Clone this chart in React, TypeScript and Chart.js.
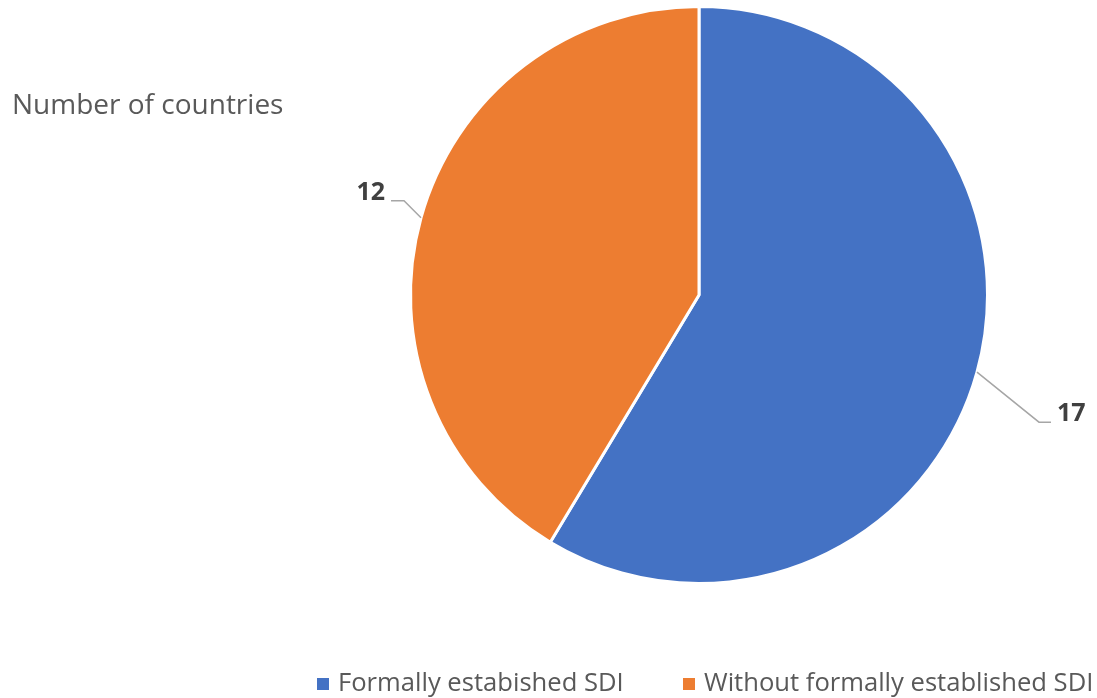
import React, { useEffect, useRef } from "react";
import { Chart, registerables } from "chart.js";

Chart.register(...registerables);

const categories = ["Formally estabished SDI", "Without formally established SDI"];
const values = [17, 12];
const colors = ["#4472C4", "#ED7D31"];
const chartTitle = "Number of countries";

const FONT = '"Open Sans", "Noto Sans", sans-serif';

// leader line geometry per slice: [dx1, dy1, horizontal length, side]
const leaders = [
  { dx: 62, dy: 50, h: 12, side: 1 },
  { dx: -17, dy: -17, h: -13, side: -1 },
];

const overlay = {
  id: "overlay",
  afterDraw(chart: any) {
    const ctx = chart.ctx;
    ctx.save();
    // title
    ctx.fillStyle = "#595959";
    ctx.font = `28px ${FONT}`;
    ctx.textBaseline = "middle";
    ctx.textAlign = "left";
    ctx.fillText(chartTitle, 12, 106);

    // data labels with leader lines
    const meta = chart.getDatasetMeta(0);
    meta.data.forEach((arc: any, i: number) => {
      const p = arc.getProps(["x", "y", "startAngle", "endAngle", "outerRadius"], true);
      const mid = (p.startAngle + p.endAngle) / 2;
      const sx = p.x + Math.cos(mid) * p.outerRadius;
      const sy = p.y + Math.sin(mid) * p.outerRadius;
      const L = leaders[i];
      const ex = sx + L.dx;
      const ey = sy + L.dy;
      const hx = ex + L.h;
      ctx.strokeStyle = "#A6A6A6";
      ctx.lineWidth = 1.5;
      ctx.beginPath();
      ctx.moveTo(sx, sy);
      ctx.lineTo(ex, ey);
      ctx.lineTo(hx, ey);
      ctx.stroke();
      ctx.fillStyle = "#404040";
      ctx.font = `bold 25px ${FONT}`;
      ctx.textBaseline = "middle";
      ctx.textAlign = L.side > 0 ? "left" : "right";
      ctx.fillText(String(values[i]), hx + L.side * 6, ey - 8);
    });

    // legend
    ctx.font = `25.6px ${FONT}`;
    ctx.textBaseline = "middle";
    ctx.textAlign = "left";
    const ly = 684;
    const starts = [317, 683];
    categories.forEach((c, i) => {
      ctx.fillStyle = colors[i];
      ctx.fillRect(starts[i], ly - 6, 12, 12);
      ctx.fillStyle = "#595959";
      ctx.fillText(c, starts[i] + 21, ly);
    });
    ctx.restore();
  },
};

export default function App() {
  const ref = useRef<HTMLCanvasElement>(null);
  useEffect(() => {
    if (!ref.current) return;
    const chart = new Chart(ref.current, {
      type: "pie",
      data: {
        labels: categories,
        datasets: [
          {
            data: values,
            backgroundColor: colors,
            borderColor: "#FFFFFF",
            borderWidth: 3,
          },
        ],
      },
      options: {
        responsive: false,
        animation: false,
        layout: { padding: { left: 409, right: 108, top: 5, bottom: 113 } },
        plugins: {
          legend: { display: false },
          tooltip: { enabled: false },
          title: { display: false },
        },
      },
      plugins: [overlay],
    });
    return () => chart.destroy();
  }, []);
  return (
    <div style={{ position: "fixed", left: 0, top: 0, width: 1097, height: 698, background: "#fff" }}>
      <canvas ref={ref} width={1097} height={698} />
    </div>
  );
}
